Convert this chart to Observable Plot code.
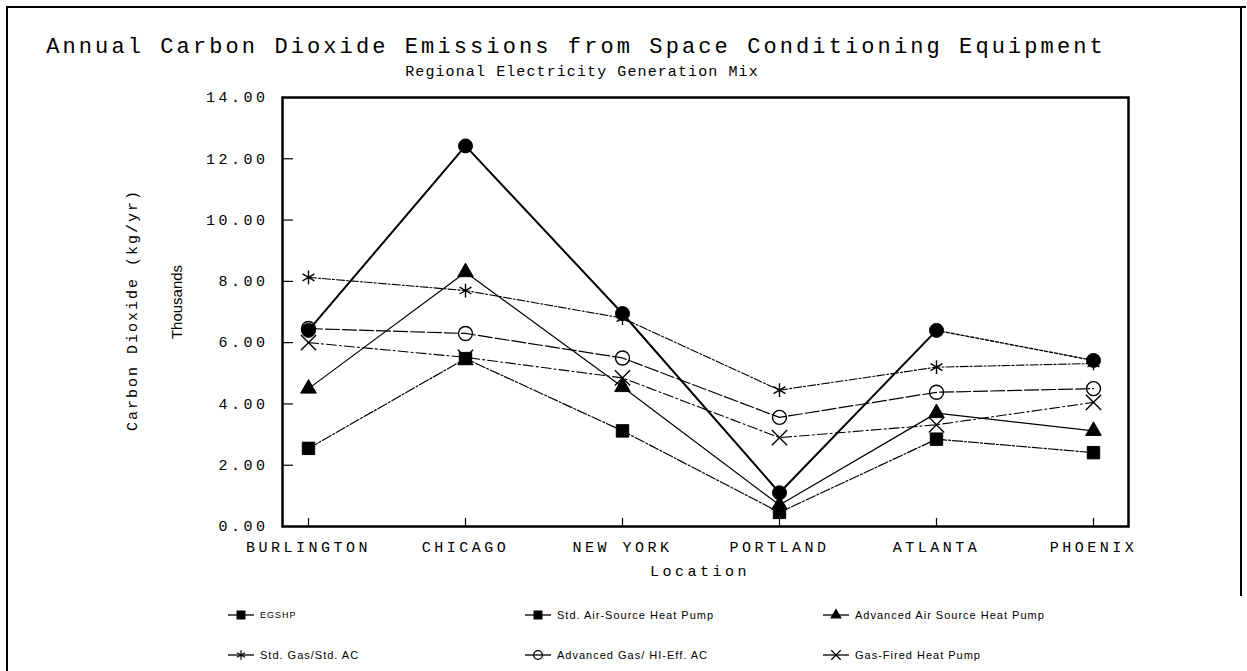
<!DOCTYPE html>
<html>
<head>
<meta charset="utf-8">
<script src="https://cdn.jsdelivr.net/npm/d3@7"></script>
<script src="https://cdn.jsdelivr.net/npm/@observablehq/plot@0.6"></script>
<style>
  body { margin: 0; background: #fff; }
  #wrap { position: relative; width: 1247px; height: 671px; overflow: hidden; background: #fff; color: #000; font-family: "Liberation Mono", monospace; }
  #wrap svg.chart { position: absolute; left: 0; top: 0; }
  .borderLT { position: absolute; left: 6px; top: 6px; width: 1240px; height: 720px; border-left: 2.5px solid #000; border-top: 2.5px solid #000; box-sizing: border-box; }
  .borderR { position: absolute; left: 1240px; top: 6px; width: 0; height: 590px; border-left: 2.5px solid #000; }
  .txt { position: absolute; white-space: nowrap; line-height: 1; }
  #title { left: 0; width: 1152px; top: 37px; text-align: center; font-size: 22px; letter-spacing: 3.1px; }
  #subtitle { left: 0; width: 1164px; top: 65px; text-align: center; font-size: 15px; letter-spacing: 1.1px; }
  #ylab { left: 133px; top: 310px; transform: translate(-50%, -50%) rotate(-90deg); font-size: 15px; letter-spacing: 2px; }
  #ylab2 { left: 176px; top: 302px; transform: translate(-50%, -50%) rotate(-90deg); font-size: 15px; font-family: "Liberation Sans", sans-serif; }
  #xlab { left: 700px; top: 572px; transform: translate(-50%, -50%); font-size: 15px; letter-spacing: 3.5px; }
  .leg { position: absolute; display: flex; align-items: center; font-family: "Liberation Sans", sans-serif; font-size: 11px; letter-spacing: 1px; }
  .leg svg { margin-right: 6px; }
</style>
</head>
<body>
<div id="wrap">
  <div class="borderLT"></div>
  <div class="borderR"></div>
  <div class="txt" id="title">Annual Carbon Dioxide Emissions from Space Conditioning Equipment</div>
  <div class="txt" id="subtitle">Regional Electricity Generation Mix</div>
  <div class="txt" id="ylab">Carbon Dioxide (kg/yr)</div>
  <div class="txt" id="ylab2">Thousands</div>
  <div class="txt" id="xlab">Location</div>
</div>
<script>
const locations = ["BURLINGTON", "CHICAGO", "NEW YORK", "PORTLAND", "ATLANTA", "PHOENIX"];
const seriesNames = ["EGSHP", "Std. Air-Source Heat Pump", "Advanced Air Source Heat Pump",
                     "Std. Gas/Std. AC", "Advanced Gas/ HI-Eff. AC", "Gas-Fired Heat Pump"];
const egshp        = [6.40, 12.42, 6.95, 1.10, 6.40, 5.42];
const stdAirSource = [2.55, 5.48, 3.12, 0.46, 2.85, 2.41];
const advAirSource = [4.50, 8.30, 4.55, 0.70, 3.70, 3.12];
const stdGasAC     = [8.13, 7.70, 6.80, 4.45, 5.20, 5.32];
const advGasAC     = [6.46, 6.30, 5.50, 3.56, 4.38, 4.50];
const gasFiredHP   = [6.00, 5.52, 4.85, 2.90, 3.32, 4.05];
const yTicks = [0, 2, 4, 6, 8, 10, 12, 14];

const seriesValues = [egshp, stdAirSource, advAirSource, stdGasAC, advGasAC, gasFiredHP];

// styles
const symbols   = ["circle", "square", "triangle", "asterisk", "circle", "times"];
const legendSym = ["square", "square", "triangle", "asterisk", "circle", "times"];
const filled    = [true, true, true, false, false, false];
const radii     = [7, 7, 5.8, 6.5, 7, 7];
const widths    = [2, 1.2, 1.2, 1.1, 1.2, 1.1];
const dashes    = [null, "10,2,2,2", null, "8,2,2,2", "14,3", "10,3,2,3"];

const rows = seriesNames.flatMap((s, si) =>
  seriesValues[si].map((v, i) => ({series: s, si, i, loc: locations[i], v})));

const marks = [];
seriesNames.forEach((s, si) => {
  const sub = rows.filter(d => d.si === si);
  if (si === 0) {
    marks.push(Plot.line(sub.filter(d => d.i <= 4), {x: "loc", y: "v", stroke: "black", strokeWidth: widths[si]}));
    marks.push(Plot.line(sub.filter(d => d.i >= 4), {x: "loc", y: "v", stroke: "black", strokeWidth: 1.4, strokeDasharray: "3,2"}));
  } else {
    marks.push(Plot.line(sub, {x: "loc", y: "v", stroke: "black", strokeWidth: widths[si], strokeDasharray: dashes[si]}));
  }
});
seriesNames.forEach((s, si) => {
  const sub = rows.filter(d => d.si === si);
  marks.push(Plot.dot(sub, {
    x: "loc", y: "v", symbol: () => symbols[si], r: radii[si],
    fill: filled[si] ? "black" : "none", stroke: "black", strokeWidth: filled[si] ? 1 : 1.4
  }));
});

const chart = Plot.plot({
  width: 1247,
  height: 671,
  marginLeft: 282,
  marginRight: 119,
  marginTop: 97,
  marginBottom: 145,
  style: "font-family: 'Liberation Mono', monospace; font-size: 15px; letter-spacing: 3.5px; overflow: visible; background: transparent;",
  x: {type: "point", domain: locations, padding: 0, insetLeft: 26, insetRight: 35},
  y: {domain: [0, 14]},
  symbol: {type: "identity"},
  marks: [
    ...marks,
    Plot.axisY({ticks: yTicks, tickSize: 0, tickPadding: 14, tickFormat: d3.format(".2f"), label: null, fill: "black"}),
    Plot.axisY({ticks: yTicks, tickSize: 11, dx: 11, text: null, label: null, stroke: "black", strokeWidth: 1.2}),
    Plot.axisX({ticks: locations, tickSize: 0, tickPadding: 15, label: null, fill: "black"}),
    Plot.axisX({ticks: locations, tickSize: 8, dy: -8, text: null, label: null, stroke: "black", strokeWidth: 1.2}),
    Plot.frame({stroke: "black", strokeWidth: 2.5})
  ]
});
chart.classList.add("chart");
document.getElementById("wrap").appendChild(chart);

// legend
const legCols = [228, 525, 823];
const legRows = [615, 655];
const typeMap = {circle: d3.symbolCircle, square: d3.symbolSquare, triangle: d3.symbolTriangle,
                 asterisk: d3.symbolAsterisk, times: d3.symbolTimes};
seriesNames.forEach((s, si) => {
  const div = document.createElement("div");
  div.className = "leg";
  div.style.left = legCols[si % 3] + "px";
  div.style.top = (legRows[Math.floor(si / 3)] - 8) + "px";
  div.style.height = "16px";
  const svg = d3.create("svg").attr("width", 26).attr("height", 16);
  svg.append("line").attr("x1", 0).attr("x2", 26).attr("y1", 8).attr("y2", 8)
    .attr("stroke", "black").attr("stroke-width", 1.3);
  const sym = legendSym[si];
  const fillIt = sym === "square" || sym === "triangle";
  svg.append("path")
    .attr("transform", "translate(13,8)")
    .attr("d", d3.symbol(typeMap[sym], sym === "triangle" ? 40 : 60)())
    .attr("fill", fillIt ? "black" : "none")
    .attr("stroke", "black").attr("stroke-width", 1.2);
  div.appendChild(svg.node());
  const span = document.createElement("span");
  span.textContent = s;
  if (si === 0) span.style.fontSize = "9px";
  div.appendChild(span);
  document.getElementById("wrap").appendChild(div);
});
</script>
</body>
</html>
